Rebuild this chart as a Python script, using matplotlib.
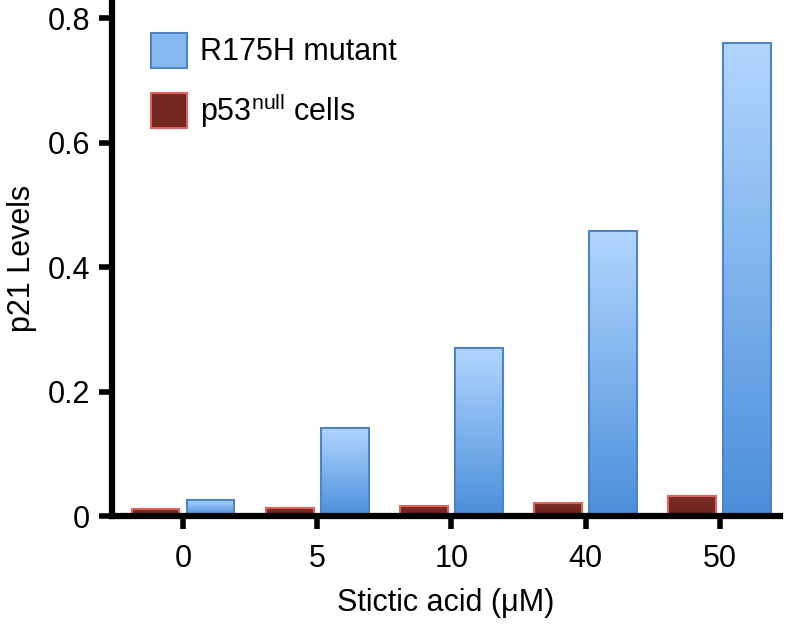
import numpy as np
import matplotlib
matplotlib.use("Agg")
import matplotlib.pyplot as plt
from matplotlib.colors import LinearSegmentedColormap
from matplotlib.patches import Patch

# Data
doses = ["0", "5", "10", "40", "50"]
r175h_levels = [0.026, 0.142, 0.270, 0.458, 0.760]
p53null_levels = [0.012, 0.013, 0.016, 0.021, 0.032]
series_names = ["R175H mutant", "p53$^{\\mathrm{null}}$ cells"]

plt.rcParams['font.family'] = ['Liberation Sans', 'DejaVu Sans']
plt.rcParams['mathtext.fontset'] = 'custom'
plt.rcParams['mathtext.rm'] = 'Liberation Sans'

blue_cmap = LinearSegmentedColormap.from_list("blue", ["#4a8fdb", "#b3d6ff"])
red_cmap = LinearSegmentedColormap.from_list("red", ["#6b211b", "#7e2d26"])
blue_edge = "#4f84c4"
red_edge = "#e0625c"

fig = plt.figure(figsize=(7.88, 6.25), dpi=100)
ax = fig.add_axes([0.142, 0.1744, 0.848, 0.8256])

x = np.arange(len(doses))
width = 0.355
offset = 0.205

grad = np.linspace(0, 1, 256).reshape(-1, 1)


def gradient_bars(xpos, heights, cmap, edge):
    bars = ax.bar(xpos, heights, width, facecolor="none", edgecolor=edge,
                  linewidth=1.5, zorder=3)
    for b in bars:
        x0, y0 = b.get_x(), b.get_y()
        w, h = b.get_width(), b.get_height()
        im = ax.imshow(grad, extent=[x0, x0 + w, y0, y0 + h], origin="lower",
                       aspect="auto", cmap=cmap, zorder=2)
        im.set_clip_path(b)
    return bars


gradient_bars(x - offset, p53null_levels, red_cmap, red_edge)
gradient_bars(x + offset, r175h_levels, blue_cmap, blue_edge)

ax.set_xlim(-0.53, 4.45)
ax.set_ylim(0, 0.829)

ax.spines['top'].set_visible(False)
ax.spines['right'].set_visible(False)
ax.spines['left'].set_linewidth(4.5)
ax.spines['bottom'].set_linewidth(4.5)
ax.spines['bottom'].set_zorder(4)

ax.set_xticks(x)
ax.set_xticklabels(doses)
ax.set_yticks([0, 0.2, 0.4, 0.6, 0.8])
ax.set_yticklabels(["0", "0.2", "0.4", "0.6", "0.8"])
ax.tick_params(axis='both', labelsize=22, length=9.5, width=4, pad=6)
ax.tick_params(axis='x', pad=11)

ax.set_xlabel("Stictic acid (\u03bcM)", fontsize=22, labelpad=10)
ax.set_ylabel("p21 Levels", fontsize=22, labelpad=8)

handles = [Patch(facecolor="#86b8f0", edgecolor=blue_edge, linewidth=1.5),
           Patch(facecolor="#74271f", edgecolor=red_edge, linewidth=1.5)]
ax.legend(handles, series_names, loc="upper left", bbox_to_anchor=(0.018, 0.99),
          frameon=False, fontsize=22, handlelength=1.15, handleheight=1.4,
          labelspacing=0.75, handletextpad=0.45)

fig.savefig("out.png", dpi=100)
